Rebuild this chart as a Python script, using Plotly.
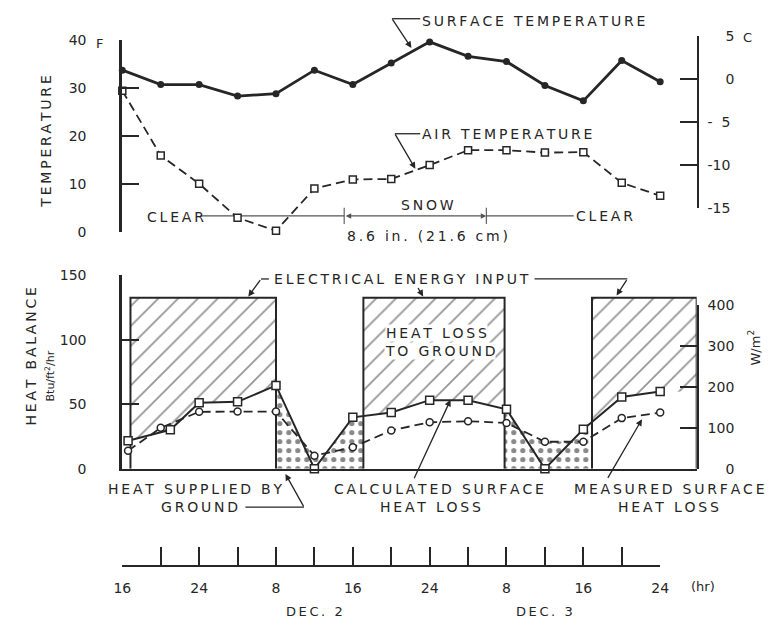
import numpy as np
import plotly.graph_objects as go

# ---------------------------------------------------------------------------
# Data (time in hours counted from midnight starting Dec 1: 16 -> 16:00 Dec 1,
# 32 -> 08:00 Dec 2, 72 -> 24:00 Dec 3)
# ---------------------------------------------------------------------------
hours = [16, 20, 24, 28, 32, 36, 40, 44, 48, 52, 56, 60, 64, 68, 72]
surface_temp_f = [33.8, 30.8, 30.8, 28.4, 28.9, 33.8, 30.8, 35.3, 39.7, 36.7, 35.6, 30.6, 27.4, 35.8, 31.4]
air_temp_f = [29.5, 16.0, 10.1, 3.0, 0.3, 9.1, 11.0, 11.1, 14.0, 17.1, 17.1, 16.6, 16.7, 10.3, 7.6]

calc_hours = [16.6, 21, 24, 28, 32, 36, 40, 44, 48, 52, 56, 60, 64, 68, 72]
calc_loss = [21.7, 30.2, 51.1, 51.8, 64.5, 0.0, 39.8, 43.5, 53.1, 53.1, 46.0, 0.0, 30.5, 55.6, 59.9]
meas_hours = [16.6, 20, 24, 28, 32, 36, 40, 44, 48, 52, 56, 60, 64, 68, 72]
meas_loss = [13.9, 31.7, 44.1, 44.3, 44.3, 10.1, 16.6, 29.7, 36.0, 36.8, 35.5, 20.9, 20.9, 39.2, 43.5]

# electrical heating on-periods (start, end) and input level, Btu/ft2/hr
power_periods = [(16.85, 32.0), (41.1, 55.8), (64.9, 75.8)]
power_input = 132.5

# sky condition bar
sky_level_f = 3.4
clear1_end = 24.3
snow_start, snow_end = 39.1, 53.9
clear2_start = 63.0

time_ticks = list(range(16, 73, 4))
time_labels = ["16", "", "24", "", "8", "", "16", "", "24", "", "8", "", "16", "", "24"]
f_ticks = [0, 10, 20, 30, 40]
f_labels = ["0", "10", "20", "30", "40"]
c_ticks = [5, 0, -5, -10, -15]
c_labels = ["\u2007\u20075", "\u2007\u20070", "-\u20075", "-10", "-15"]
btu_ticks = [0, 50, 100, 150]
btu_labels = ["0", "50", "100", "150"]
wm2_ticks = [0, 100, 200, 300, 400]
wm2_labels = ["\u2007\u20070", "100", "200", "300", "400"]

BTU_TO_WM2 = 3.1546

# ---------------------------------------------------------------------------
# Page geometry helpers
# ---------------------------------------------------------------------------
W, H = 776, 632
INK = "#262626"
FONT = "DejaVu Sans"


def px(x):
    return x / W


def py(y):
    return 1 - y / H


def spaced(text):
    return "\u2009".join(text)


x_left, x_right = 116, 704
t_min, t_max = 16, 75.8
time_axis_right = x_left + (x_right - x_left) * (72 - t_min) / (t_max - t_min)

top_y0, top_y40 = 230.0, 33.3          # pixel rows of 0 F and 40 F
f_px = (top_y0 - top_y40) / 40.0


def f_row(f):
    return top_y0 - f * f_px


c_top_row = f_row(5 * 9 / 5 + 32)
c_bot_row = f_row(-15 * 9 / 5 + 32)

bot_y0, bot_y150 = 472.7, 274.0
btu_px = (bot_y0 - bot_y150) / 150.0
w400_row = bot_y0 - 400 / BTU_TO_WM2 * btu_px

fig = go.Figure()

# ---------------------------------------------------------------------------
# Upper panel: temperatures
# ---------------------------------------------------------------------------
fig.add_trace(go.Scatter(
    x=[clear1_end, snow_start, None, snow_start, snow_start, None, snow_end, snow_end, None, snow_end, clear2_start],
    y=[sky_level_f, sky_level_f, None, sky_level_f - 1.7, sky_level_f + 1.7, None,
       sky_level_f - 1.7, sky_level_f + 1.7, None, sky_level_f, sky_level_f],
    mode="lines", line=dict(color="#555555", width=1.1),
    xaxis="x", yaxis="y", hoverinfo="skip", cliponaxis=False))

fig.add_trace(go.Scatter(
    x=hours, y=air_temp_f, mode="lines+markers", xaxis="x", yaxis="y",
    line=dict(color=INK, width=1.8, dash="9px,5px"),
    marker=dict(symbol="square", size=7, color="white", line=dict(color=INK, width=1.5)),
    cliponaxis=False))
fig.add_trace(go.Scatter(
    x=hours, y=surface_temp_f, mode="lines+markers", xaxis="x", yaxis="y",
    line=dict(color=INK, width=2.8),
    marker=dict(symbol="circle", size=7, color=INK),
    cliponaxis=False))
fig.add_trace(go.Scatter(x=[], y=[], xaxis="x", yaxis="y2", hoverinfo="skip"))
fig.add_trace(go.Scatter(x=[], y=[], xaxis="x", yaxis="y5", hoverinfo="skip"))

# ---------------------------------------------------------------------------
# Lower panel: heat balance
# ---------------------------------------------------------------------------
# heat loss to ground: between calculated surface loss and electrical input
for a, b in power_periods:
    tt = np.union1d(np.linspace(a, b, 150), [h for h in calc_hours if a < h < b])
    bottom = np.interp(tt, calc_hours, calc_loss)
    xs = [a, b] + list(tt[::-1])
    ys = [power_input, power_input] + list(bottom[::-1])
    fig.add_trace(go.Scatter(
        x=xs, y=ys, mode="lines", fill="toself", line=dict(width=0),
        fillcolor="rgba(0,0,0,0)",
        fillpattern=dict(shape="/", size=14, solidity=0.13, fgcolor="#2e2e2e", bgcolor="rgba(0,0,0,0)"),
        xaxis="x3", yaxis="y3", hoverinfo="skip"))

# heat supplied by ground: surface loss while the heating is off
off_periods = [(power_periods[i][1], power_periods[i + 1][0]) for i in range(len(power_periods) - 1)]
for a, b in off_periods:
    inside = [h for h in calc_hours + meas_hours if a < h < b]
    tt = np.union1d(np.linspace(a, b, 200), inside)
    top = np.maximum(np.interp(tt, calc_hours, calc_loss), np.interp(tt, meas_hours, meas_loss))
    xs = [a] + list(tt) + [b]
    ys = [0] + list(top) + [0]
    fig.add_trace(go.Scatter(
        x=xs, y=ys, mode="lines", fill="toself", line=dict(width=0),
        fillcolor="rgba(0,0,0,0)",
        fillpattern=dict(shape=".", size=9, solidity=0.26, fgcolor="#111111", bgcolor="rgba(0,0,0,0)"),
        xaxis="x3", yaxis="y3", hoverinfo="skip"))

# electrical energy input outlines
bx, by = [], []
for a, b in power_periods:
    bx += [a, a, b, b, None]
    by += [0, power_input, power_input, 0, None]
fig.add_trace(go.Scatter(x=bx, y=by, mode="lines", line=dict(color=INK, width=2),
                         xaxis="x3", yaxis="y3", hoverinfo="skip", cliponaxis=False))

fig.add_trace(go.Scatter(
    x=meas_hours, y=meas_loss, mode="lines+markers", xaxis="x3", yaxis="y3",
    line=dict(color=INK, width=1.8, dash="9px,5px"),
    marker=dict(symbol="circle", size=7, color="white", line=dict(color=INK, width=1.5)),
    cliponaxis=False))
fig.add_trace(go.Scatter(
    x=calc_hours, y=calc_loss, mode="lines+markers", xaxis="x3", yaxis="y3",
    line=dict(color=INK, width=2),
    marker=dict(symbol="square", size=8, color="white", line=dict(color=INK, width=1.5)),
    cliponaxis=False))
fig.add_trace(go.Scatter(x=[], y=[], xaxis="x3", yaxis="y4", hoverinfo="skip"))
fig.add_trace(go.Scatter(x=[], y=[], xaxis="x3", yaxis="y6", hoverinfo="skip"))
fig.add_trace(go.Scatter(x=[], y=[], xaxis="x2", yaxis="y", hoverinfo="skip"))

# ---------------------------------------------------------------------------
# Axes
# ---------------------------------------------------------------------------
tick_font = dict(family=FONT, size=14, color=INK)
common_y = dict(showgrid=False, zeroline=False, showline=True, linecolor=INK,
                ticks="inside", ticklen=17, tickwidth=2, tickcolor=INK,
                tickfont=tick_font, tickmode="array")
# companion axes that carry only the inward tick marks of the left scales
tick_only = dict(showgrid=False, zeroline=False, showline=False, ticks="inside",
                 ticklen=17, tickwidth=2, tickcolor=INK, showticklabels=False,
                 tickmode="array", side="left")

fig.update_layout(
    width=W, height=H,
    margin=dict(l=0, r=0, t=0, b=0),
    paper_bgcolor="white", plot_bgcolor="rgba(0,0,0,0)",
    showlegend=False,
    font=dict(family=FONT, size=14, color=INK),
    xaxis=dict(domain=[px(x_left), px(x_right)], range=[t_min, t_max], anchor="y",
               visible=False),
    yaxis=dict(domain=[py(top_y0), py(top_y40)], range=[0, 40], anchor="x",
               linewidth=3, tickvals=f_ticks, ticktext=f_labels,
               ticklabelstandoff=30, **common_y),
    yaxis5=dict(overlaying="y", anchor="x", range=[0, 40], tickvals=f_ticks, **tick_only),
    yaxis2=dict(domain=[py(c_bot_row), py(c_top_row)], range=[-15, 5], anchor="x",
                side="right", linewidth=2.2, tickvals=c_ticks, ticktext=c_labels,
                ticklabelstandoff=6, **common_y),
    xaxis3=dict(domain=[px(x_left), px(x_right)], range=[t_min, t_max], anchor="y3",
                showline=True, linewidth=2.2, linecolor=INK, ticks="",
                showticklabels=False, showgrid=False, zeroline=False),
    yaxis3=dict(domain=[py(bot_y0), py(bot_y150)], range=[0, 150], anchor="x3",
                linewidth=3, tickvals=btu_ticks, ticktext=btu_labels,
                ticklabelstandoff=30, **common_y),
    yaxis6=dict(overlaying="y3", anchor="x3", range=[0, 150], tickvals=btu_ticks, **tick_only),
    yaxis4=dict(domain=[py(bot_y0), py(w400_row)], range=[0, 400], anchor="x3",
                side="right", linewidth=2.2, tickvals=wm2_ticks, ticktext=wm2_labels,
                ticklabelstandoff=6, **common_y),
    xaxis2=dict(domain=[px(x_left), px(time_axis_right)], range=[16, 72],
                anchor="free", position=py(572.3), side="bottom",
                showline=True, linewidth=2.2, linecolor=INK,
                ticks="inside", ticklen=18, tickwidth=2, tickcolor=INK,
                tickmode="array", tickvals=time_ticks, ticktext=time_labels,
                tickfont=tick_font, ticklabelstandoff=9,
                showgrid=False, zeroline=False),
)

# ---------------------------------------------------------------------------
# Text labels and leader lines (page pixel positions)
# ---------------------------------------------------------------------------
annotations = []


def label(text, x, y, size=14, xanchor="center", angle=0, bg=None):
    ann = dict(text=text, x=px(x), y=py(y), xref="paper", yref="paper",
               xanchor=xanchor, yanchor="middle", showarrow=False, textangle=angle,
               font=dict(family=FONT, size=size, color=INK))
    if bg:
        ann.update(bgcolor=bg, borderpad=0)
    annotations.append(ann)


def arrow(tail, head):
    annotations.append(dict(
        text="", x=px(head[0]), y=py(head[1]), xref="paper", yref="paper",
        ax=tail[0] - head[0], ay=tail[1] - head[1], showarrow=True,
        arrowhead=2, arrowsize=1, arrowwidth=1.3, arrowcolor=INK, standoff=0))


shapes = []


def rule(p0, p1, width=1.3):
    shapes.append(dict(type="line", xref="paper", yref="paper",
                       x0=px(p0[0]), y0=py(p0[1]), x1=px(p1[0]), y1=py(p1[1]),
                       line=dict(color=INK, width=width)))


# axis titles and units
label(spaced("TEMPERATURE"), 37, 137, size=14, angle=-90)
label(spaced("HEAT BALANCE"), 22, 357, size=14, angle=-90)
label("Btu/ft<sup>2</sup>/hr", 42, 378, size=11, angle=-90)
label("W/m<sup>2</sup>", 763, 348, size=13, angle=-90)
label("F", 93, 36, size=13)
label("C", 756, 30, size=13)

# temperature series labels
label(spaced("SURFACE TEMPERATURE"), 421, 13, xanchor="left")
rule((392, 11), (421, 11))
arrow((392, 11), (412, 41))
label(spaced("AIR TEMPERATURE"), 421, 129, xanchor="left")
rule((395, 129), (421, 129))
arrow((395, 129), (416, 165))

# sky conditions
label(spaced("CLEAR"), 170, 214)
label(spaced("SNOW"), 428, 202)
label(spaced("CLEAR"), 610, 213)
label(spaced("8.6 in. (21.6 cm)"), 428, 234)
annotations.append(dict(
    text="", x=snow_end, y=sky_level_f, xref="x", yref="y",
    ax=snow_start, ay=sky_level_f, axref="x", ayref="y",
    showarrow=True, arrowhead=2, arrowside="end+start", arrowsize=1,
    arrowwidth=1.1, arrowcolor="#555555", standoff=0, startstandoff=0))

# heat balance labels
label(spaced("ELECTRICAL ENERGY INPUT"), 402, 278)
rule((258, 278), (266, 278))
arrow((258, 278), (245, 296))
arrow((418, 286), (424, 296))
rule((538, 278), (633, 278))
arrow((633, 278), (622, 295))

label(spaced("HEAT LOSS"), 385, 333, xanchor="left", bg="white")
label(spaced("TO GROUND"), 384, 352, xanchor="left", bg="white")

label(spaced("HEAT SUPPLIED BY"), 191, 494)
label(spaced("GROUND"), 195, 512)
rule((242, 512), (302, 512))
arrow((302, 512), (283, 478))

label(spaced("CALCULATED SURFACE"), 440, 494)
label(spaced("HEAT LOSS"), 431, 512)
arrow((415, 482), (452, 402))

label(spaced("MEASURED SURFACE"), 676, 494)
label(spaced("HEAT LOSS"), 675, 512)
arrow((613, 482), (648, 422))

# time axis captions
label("(hr)", 710, 594, size=13)
for day_noon, day_text in [(36, "DEC. 2"), (60, "DEC. 3")]:
    annotations.append(dict(text=spaced(day_text), x=day_noon, y=py(619), xref="x2", yref="paper",
                            xanchor="center", yanchor="middle", showarrow=False,
                            font=dict(family=FONT, size=13, color=INK)))

fig.update_layout(annotations=annotations, shapes=shapes)

fig.write_html("out.html")
